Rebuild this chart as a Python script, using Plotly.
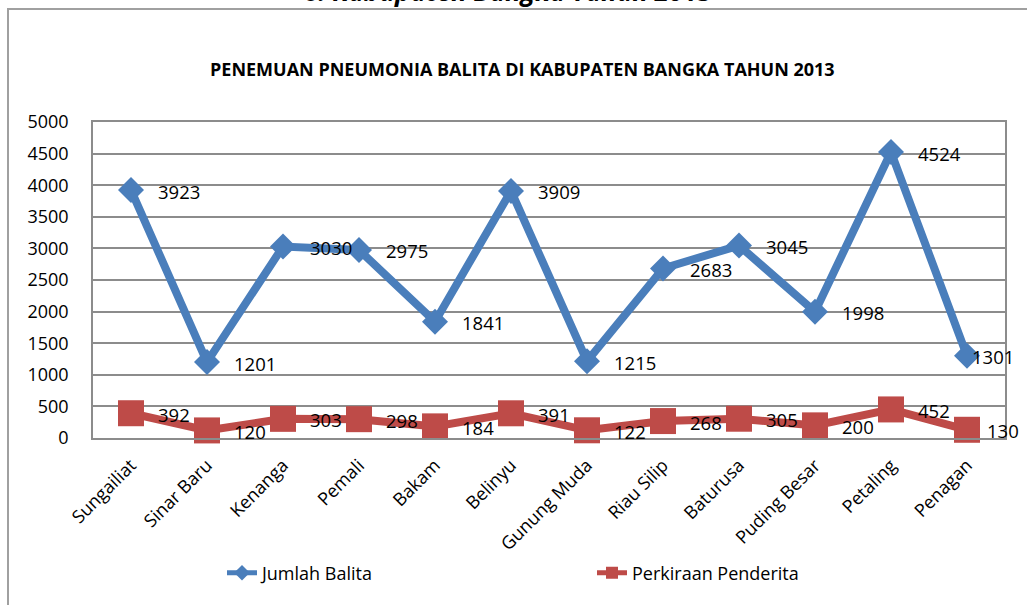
import plotly.graph_objects as go

categories = ["Sungailiat", "Sinar Baru", "Kenanga", "Pemali", "Bakam", "Belinyu",
              "Gunung Muda", "Riau Silip", "Baturusa", "Puding Besar", "Petaling", "Penagan"]
jumlah_balita = [3923, 1201, 3030, 2975, 1841, 3909, 1215, 2683, 3045, 1998, 4524, 1301]
perkiraan_penderita = [392, 120, 303, 298, 184, 391, 122, 268, 305, 200, 452, 130]
y_ticks = [0, 500, 1000, 1500, 2000, 2500, 3000, 3500, 4000, 4500, 5000]

W, H = 1027, 605
ML, MR, MT, MB = 93, 22, 122, 167
PW, PH = W - ML - MR, H - MT - MB

def px_x(p):
    return (p - ML) / PW

def px_y(p):
    return (H - MB - p) / PH

FONT = "Open Sans"
BLUE = "#4A7EBB"
RED = "#BE4B48"
GRID = "#8C8C8C"

fig = go.Figure()
fig.add_trace(go.Scatter(
    x=categories, y=jumlah_balita, name="Jumlah Balita", mode="lines+markers",
    line=dict(color=BLUE, width=8),
    marker=dict(symbol="diamond", size=20, color=BLUE),
    cliponaxis=False,
))
fig.add_trace(go.Scatter(
    x=categories, y=perkiraan_penderita, name="Perkiraan Penderita", mode="lines+markers",
    line=dict(color=RED, width=8),
    marker=dict(symbol="square", size=26, color=RED),
    cliponaxis=False,
))

annotations = []
for series, shifts in ((jumlah_balita, {11: 3}), (perkiraan_penderita, {11: 18})):
    for i, (c, v) in enumerate(zip(categories, series)):
        annotations.append(dict(
            x=c, y=v, xref="x", yref="y", text=str(v), showarrow=False,
            xanchor="left", yanchor="middle", xshift=shifts.get(i, 25), yshift=-1,
            font=dict(family=FONT, size=18.5, color="#000000"),
        ))

annotations.append(dict(
    x=px_x(522), y=px_y(69), xref="paper", yref="paper",
    text="<b>PENEMUAN PNEUMONIA BALITA DI KABUPATEN BANGKA TAHUN 2013</b>",
    showarrow=False, xanchor="center", yanchor="middle",
    font=dict(family=FONT, size=18, color="#000000"),
))
annotations.append(dict(
    x=px_x(508), y=px_y(11), xref="paper", yref="paper",
    text="<b><i>6. Kabupaten Bangka Tahun 2013</i></b>",
    showarrow=False, xanchor="center", yanchor="bottom",
    font=dict(family=FONT, size=26, color="#000000"),
))

fig.update_layout(
    width=W, height=H,
    margin=dict(l=ML, r=MR, t=MT, b=MB),
    paper_bgcolor="white", plot_bgcolor="white",
    font=dict(family=FONT, size=18, color="#000000"),
    showlegend=True,
    legend=dict(
        orientation="h", x=px_x(222), y=px_y(573), xanchor="left", yanchor="middle",
        entrywidth=325, entrywidthmode="pixels",
        font=dict(family=FONT, size=18, color="#000000"),
        itemwidth=30, itemsizing="constant", bgcolor="rgba(0,0,0,0)",
    ),
    annotations=annotations,
    shapes=[dict(type="rect", xref="paper", yref="paper",
                 x0=px_x(8), y0=px_y(640), x1=px_x(1060), y1=px_y(9),
                 line=dict(color="#A0A0A0", width=2), layer="below")],
)
fig.update_xaxes(
    type="category", tickangle=-45, showgrid=False, ticks="",
    showline=True, linecolor=GRID, linewidth=1.5, mirror=True,
    tickfont=dict(family=FONT, size=18), range=[-0.5, len(categories) - 0.5],
    ticklabelstandoff=8,
)
fig.update_yaxes(
    range=[0, 5000], tickvals=y_ticks, ticktext=[str(t) for t in y_ticks],
    showgrid=True, gridcolor=GRID, gridwidth=1.5, zeroline=False,
    showline=True, linecolor=GRID, linewidth=1.5, mirror=True, ticks="",
    tickfont=dict(family=FONT, size=18), ticklabelstandoff=19,
)

fig.write_html("out.html", config={"displayModeBar": False},
               post_script="document.body.style.margin='0';document.body.style.overflow='hidden';")
